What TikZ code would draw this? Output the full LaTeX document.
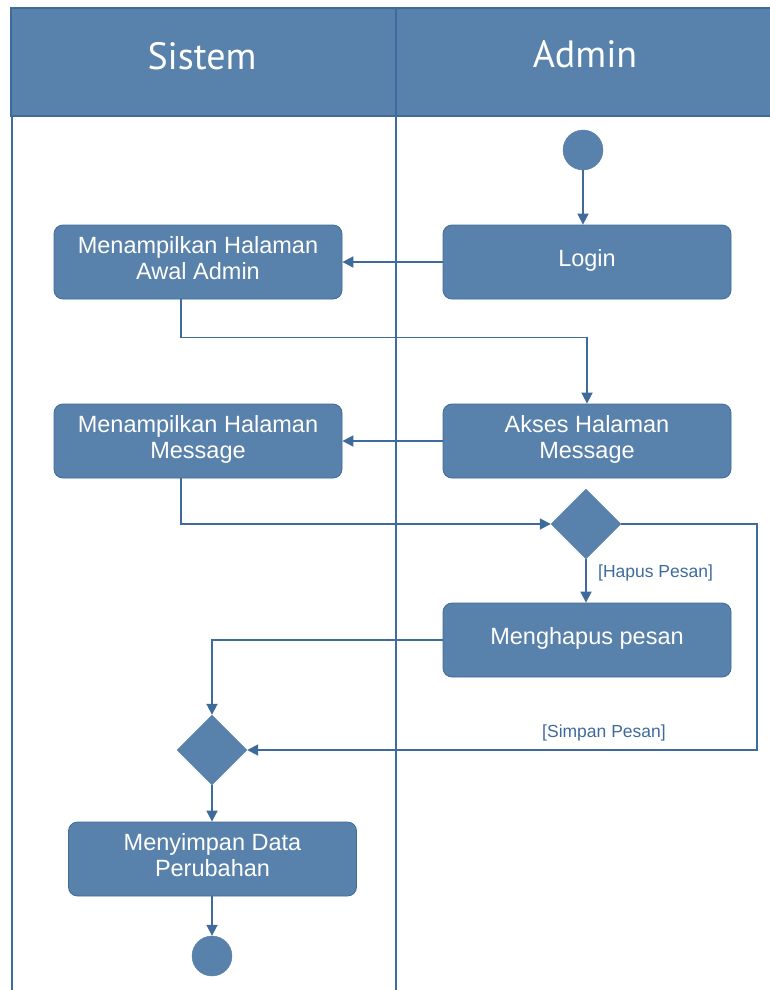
\documentclass[tikz,border=0pt]{standalone}
\usepackage{fontspec}
\setmainfont{Liberation Sans}
\newfontfamily\headfont{PT Sans}
\usetikzlibrary{arrows.meta,shapes.geometric}
\definecolor{umlfill}{RGB}{88,129,171}
\definecolor{umlline}{RGB}{62,107,156}

\begin{document}
\begin{tikzpicture}[x=1pt,y=-1pt,
  action/.style={rectangle,rounded corners=9pt,fill=umlfill,draw=umlline,line width=0.8pt,
    minimum width=288pt,minimum height=74pt,inner sep=0pt,text=white,align=center,
    text depth=9pt,font=\fontsize{23.5}{26}\selectfont},
  decision/.style={diamond,fill=umlfill,draw=umlfill,minimum width=70pt,minimum height=70pt,inner sep=0pt},
  terminal/.style={circle,fill=umlfill,draw=umlfill,minimum size=40pt,inner sep=0pt},
  flow/.style={draw=umlline,line width=1.8pt,-{Triangle[length=11pt,width=11pt]}},
  guard/.style={text=umlline,font=\fontsize{17.5}{20}\selectfont,inner sep=0pt},
  lane/.style={draw=umlline,line width=1.6pt},
  lanehead/.style={text=white,font=\headfont\fontsize{38}{40}\selectfont}]

  \useasboundingbox (0,0) rectangle (769,990);

  % swimlane header and lane borders
  \fill[umlfill] (11,8) rectangle (775,116);
  \draw[lane] (775,8) -- (11,8) -- (11,116) -- (775,116);
  \draw[lane] (12,116) -- (12,995);
  \draw[lane] (396,8) -- (396,995);
  \node[lanehead] (hsistem) at (202,56) {Sistem};
  \node[lanehead] (hadmin) at (585,54) {Admin};

  % activity nodes
  \node[terminal] (start) at (583,150) {};
  \node[action] (login) at (587,262) {Login};
  \node[action] (awal) at (198,262) {Menampilkan Halaman\\Awal Admin};
  \node[action] (akses) at (587,441) {Akses Halaman\\Message};
  \node[action] (tampilmsg) at (198,441) {Menampilkan Halaman\\Message};
  \node[decision] (pilih) at (586,524) {};
  \node[action] (hapus) at (587,640) {Menghapus pesan};
  \node[decision] (gabung) at (212,750) {};
  \node[action] (simpan) at (212.5,859) {Menyimpan Data\\Perubahan};
  \node[terminal] (akhir) at (212,956) {};
  \coordinate (keluar) at (757,524);

  % control flow
  \draw[flow] (start) -- (start |- login.north);
  \draw[flow] (login) -- (awal);
  \draw[flow] ([xshift=-17pt]awal.south) -- ++(0,38) -| (akses.north);
  \draw[flow] (akses) -- (tampilmsg);
  \draw[flow] ([xshift=-17pt]tampilmsg.south) |- (pilih.west);
  \draw[flow] (pilih.south) -- (pilih.south |- hapus.north);
  \node[guard,anchor=west] (ghapus) at (598,573) {[Hapus Pesan]};
  \draw[flow] (pilih.east) -- (keluar) |- (gabung.east);
  \node[guard] (gsimpan) at (604,733) {[Simpan Pesan]};
  \draw[flow] (hapus.west) -| (gabung.north);
  \draw[flow] (gabung.south) -- (simpan.north -| gabung.south);
  \draw[flow] (simpan.south -| akhir.north) -- (akhir.north);
\end{tikzpicture}
\end{document}
